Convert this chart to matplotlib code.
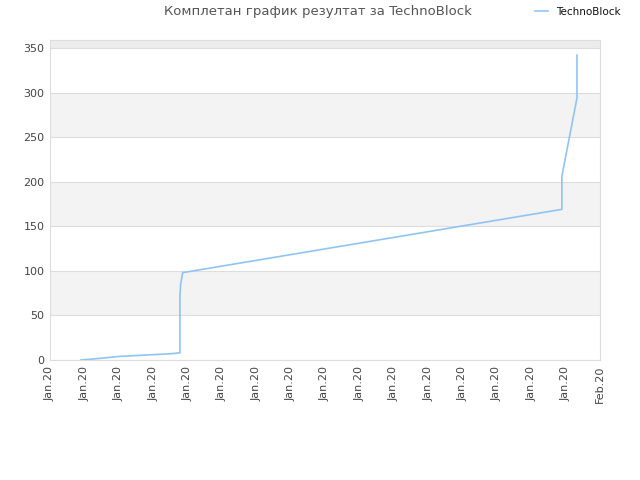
import matplotlib
matplotlib.use("Agg")
import matplotlib.pyplot as plt

# data (x in tick-index units)
xs = [0.90, 1.50, 2.00, 2.50, 3.00, 3.50, 3.78, 3.78, 3.80, 3.86, 14.89, 14.89, 15.33, 15.33]
ys = [0, 2, 4, 5, 6, 7, 8, 72, 85, 98, 169, 206, 294, 342]
tick_labels = ["Jan.20"] * 16 + ["Feb.20"]
yticks = [0, 50, 100, 150, 200, 250, 300, 350]
title = "Комплетан график резултат за TechnoBlock"
series_name = "TechnoBlock"

fig = plt.figure(figsize=(6.4, 4.8), dpi=100)
ax = fig.add_axes([50/640, 120/480, 550/640, 320/480])
ax.set_xlim(0, 16)
ax.set_ylim(0, 359)

# alternating bands
for i, y0 in enumerate(range(0, 360, 50)):
    if i % 2 == 1:
        ax.axhspan(y0, y0 + 50, color="#f3f3f3", zorder=0, lw=0)
ax.axhspan(350, 359, color="#ececec", zorder=0, lw=0)
for y in yticks:
    ax.axhline(y, color="#dddddd", lw=0.8, zorder=1)

ax.plot(xs, ys, color="#90c4f5", lw=1.2, zorder=3, label=series_name)

ax.set_xticks(range(17))
ax.set_xticklabels(tick_labels, rotation=90, fontsize=8, color="#444444")
ax.set_yticks(yticks)
ax.set_yticklabels([str(v) for v in yticks], fontsize=8, color="#444444")
ax.tick_params(length=0, pad=4)
for s in ax.spines.values():
    s.set_color("#dddddd")
    s.set_linewidth(0.8)

fig.text(318/640, 1 - 12/480, title, ha="center", va="center", fontsize=9.5, color="#555555")
leg = fig.legend(loc="center", bbox_to_anchor=(578/640, 1 - 12/480), frameon=False,
                 fontsize=7.5, handlelength=1.2, handletextpad=0.8, labelcolor="#111111")

fig.savefig("out.png", dpi=100, facecolor="white")
